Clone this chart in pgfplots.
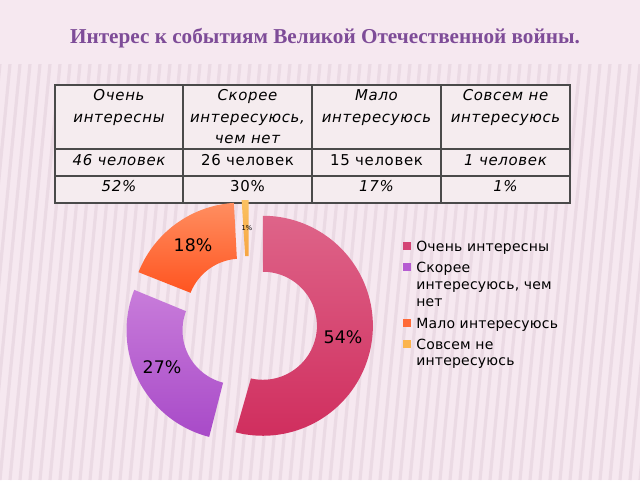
\documentclass[border=0pt]{standalone}
\usepackage{pgfplots}
\usepackage{pgfplotstable}
\pgfplotsset{compat=1.18}
\usepackage{fontspec}
\setmainfont{DejaVu Sans}
\newfontfamily\tabfont[LetterSpace=4.5]{DejaVu Sans}
\newfontfamily\legfont[LetterSpace=1.5]{DejaVu Sans}
\newfontfamily\titlefont{Liberation Serif}
\definecolor{bg}{HTML}{F6E8F0}
\definecolor{stripe}{HTML}{EBDAE4}
\definecolor{titlecol}{HTML}{7E4C98}
\definecolor{cellbg}{HTML}{F5ECEF}
\definecolor{tabline}{HTML}{4A4A4A}
\definecolor{redT}{HTML}{DE6489}\definecolor{redB}{HTML}{D02E5E}\definecolor{redL}{HTML}{D44475}
\definecolor{purT}{HTML}{C87CDA}\definecolor{purB}{HTML}{A84AC8}\definecolor{purL}{HTML}{B65CD2}
\definecolor{oraT}{HTML}{FF8E60}\definecolor{oraB}{HTML}{FF5420}\definecolor{oraL}{HTML}{FF6A38}
\definecolor{yelT}{HTML}{FBC262}\definecolor{yelB}{HTML}{F6A542}\definecolor{yelL}{HTML}{FBB44E}

\pgfplotstableread{
label value
A 54
B 27
C 18
D 1
}\piedata

\def\curang{90}
% #1 row, #2 top colour, #3 bottom colour
\newcommand\seg[3]{%
  \pgfplotstablegetelem{#1}{value}\of\piedata
  \pgfmathsetmacro\sa{\curang}%
  \pgfmathsetmacro\ea{\curang-3.6*\pgfplotsretval}%
  \pgfmathsetmacro\ma{(\sa+\ea)/2}%
  \pgfmathsetmacro\cx{249+14*cos(\ma)}%
  \pgfmathsetmacro\cy{324-14*sin(\ma)}%
  \global\let\curang\ea
  \edef\doseg{\noexpand\addplot[draw=none, top color=#2, bottom color=#3, domain=0:2, samples=241, variable=\noexpand\t, forget plot]
    ({\cx + ifthenelse(\noexpand\t<=1.002, 110*cos(\sa+(\ea-\sa)*\noexpand\t), 54*cos(\ea-(\ea-\sa)*(\noexpand\t-1)))},
     {\cy - ifthenelse(\noexpand\t<=1.002, 110*sin(\sa+(\ea-\sa)*\noexpand\t), 54*sin(\ea-(\ea-\sa)*(\noexpand\t-1)))});}%
  \doseg
}
\newcommand\tb[4]{\node[anchor=base, inner sep=0pt, font=\tabfont\fontsize{11.2}{12}\selectfont#4] at (axis cs:#1,#2) {#3};}
\newcommand\legtxt[2]{\node[anchor=base west, inner sep=0pt, font=\legfont\fontsize{10.5}{12}\selectfont] at (axis cs:416,#1) {#2};}
\newcommand\legsq[2]{\fill[#2] (axis cs:403,{#1-9.5}) rectangle (axis cs:411,{#1-1.5});}

\begin{document}
\begin{tikzpicture}
\useasboundingbox (0,0) rectangle (480pt,360pt);
\fill[bg] (0,0) rectangle (480pt,360pt);
\begin{scope}
\clip (0,0) rectangle (480pt,312pt);
\foreach \i in {-10,...,70} {\draw[stripe, line width=2.4pt] ({\i*7.5pt},0) -- ({\i*7.5pt+30pt},312pt);}
\end{scope}
\begin{axis}[
  at={(0,0)}, anchor=south west, scale only axis, width=480pt, height=360pt,
  xmin=0, xmax=640, ymin=0, ymax=480, y dir=reverse, hide axis, clip=false,
]
% table
\fill[cellbg] (axis cs:55,85) rectangle (axis cs:570,203);
\draw[tabline, line width=0.9pt] (axis cs:55,85) rectangle (axis cs:570,203);
\draw[tabline, line width=0.9pt] (axis cs:183,85) -- (axis cs:183,203);
\draw[tabline, line width=0.9pt] (axis cs:312,85) -- (axis cs:312,203);
\draw[tabline, line width=0.9pt] (axis cs:441,85) -- (axis cs:441,203);
\draw[tabline, line width=0.9pt] (axis cs:55,149) -- (axis cs:570,149);
\draw[tabline, line width=0.9pt] (axis cs:55,176) -- (axis cs:570,176);
\tb{119}{100}{Очень}{\itshape}
\tb{119}{122}{интересны}{\itshape}
\tb{247.5}{100}{Скорее}{\itshape}
\tb{247.5}{122}{интересуюсь,}{\itshape}
\tb{247.5}{143}{чем нет}{\itshape}
\tb{376.5}{100}{Мало}{\itshape}
\tb{376.5}{122}{интересуюсь}{\itshape}
\tb{505.5}{100}{Совсем не}{\itshape}
\tb{505.5}{122}{интересуюсь}{\itshape}
\tb{119}{165.5}{46 человек}{\itshape}
\tb{247.5}{165.5}{26 человек}{}
\tb{376.5}{165.5}{15 человек}{}
\tb{505.5}{165.5}{1 человек}{\itshape}
\tb{119}{191.5}{52\%}{\itshape}
\tb{247.5}{191.5}{30\%}{}
\tb{376.5}{191.5}{17\%}{\itshape}
\tb{505.5}{191.5}{1\%}{\itshape}
% title
\node[font=\titlefont\bfseries\fontsize{15.9}{19}\selectfont, text=titlecol] at (axis cs:325,38) {Интерес к событиям Великой Отечественной войны.};
% donut
\seg{0}{redT}{redB}
\seg{1}{purT}{purB}
\seg{2}{oraT}{oraB}
\seg{3}{yelT}{yelB}
\node[font=\fontsize{13}{15}\selectfont] at (axis cs:343,337) {54\%};
\node[font=\fontsize{13}{15}\selectfont] at (axis cs:162,367) {27\%};
\node[font=\fontsize{13}{15}\selectfont] at (axis cs:193,245) {18\%};
\node[font=\fontsize{5}{6}\selectfont] at (axis cs:247,228) {1\%};
% legend
\legsq{251}{redL}\legtxt{251}{Очень интересны}
\legsq{272}{purL}\legtxt{272}{Скорее}
\legtxt{289}{интересуюсь, чем}
\legtxt{306}{нет}
\legsq{328}{oraL}\legtxt{328}{Мало интересуюсь}
\legsq{349}{yelL}\legtxt{349}{Совсем не}
\legtxt{365.5}{интересуюсь}
\end{axis}
\end{tikzpicture}
\end{document}
